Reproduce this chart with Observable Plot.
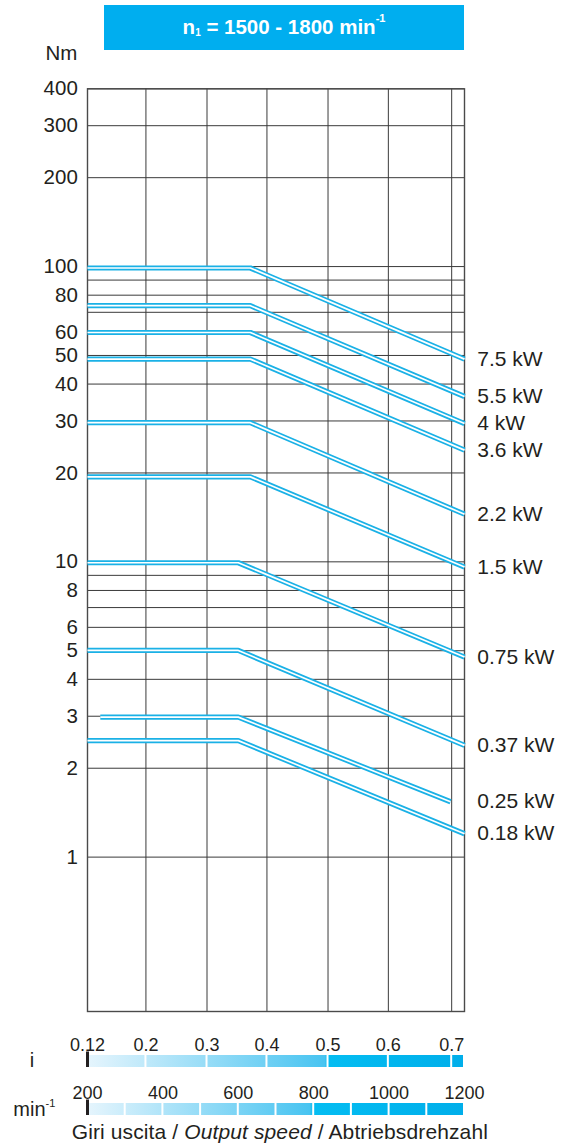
<!DOCTYPE html>
<html><head><meta charset="utf-8">
<script src="https://cdn.jsdelivr.net/npm/d3@7"></script>
<script src="https://cdn.jsdelivr.net/npm/@observablehq/plot@0.6"></script>
<style>
body{margin:0;background:#fff;font-family:"Liberation Sans",Arial,sans-serif;color:#231f20}
#wrap{position:relative;width:566px;height:1146px;overflow:hidden}
.abs{position:absolute;line-height:1;white-space:nowrap}
#title{left:104px;top:5px;width:360px;height:45px;background:#00aeef;color:#fff;font-weight:bold;font-size:20.5px;display:flex;align-items:center;justify-content:center;line-height:1}
#title .sub{font-size:10px;position:relative;top:5px}
#title .sup{font-size:11px;position:relative;top:-9px}
.sup2{font-size:11px;position:relative;top:-9px}
svg{display:block}
</style></head>
<body><div id="wrap"></div>
<script>
// ---- data ----
const powers      = ["7.5 kW","5.5 kW","4 kW","3.6 kW","2.2 kW","1.5 kW","0.75 kW","0.37 kW","0.25 kW","0.18 kW"];
const startSpeed  = [200, 200, 200, 200, 200, 200, 200, 200, 234, 200];
const kneeSpeed   = [632, 632, 632, 632, 632, 632, 600, 600, 600, 600];
const flatTorque  = [98.9, 73.7, 59.8, 48.6, 29.6, 19.4, 9.93, 5.01, 2.98, 2.48];
const endSpeed    = [1200, 1200, 1200, 1200, 1200, 1200, 1200, 1200, 1163, 1200];
const endTorque   = [48.6, 36.3, 29.4, 23.9, 14.5, 9.6, 4.76, 2.39, 1.54, 1.20];

const yGrid  = [1,2,3,4,5,6,7,8,9,10,20,30,40,50,60,70,80,90,100,200,300,400];
const yTicks = [1,2,3,4,5,6,8,10,20,30,40,50,60,80,100,200,300,400];

const iTicks  = ["0.12","0.2","0.3","0.4","0.5","0.6","0.7"];
const iSpeed  = [200, 355, 517, 676, 838, 998, 1166];   // position of each ratio on the speed axis
const speedTicks = [200, 400, 600, 800, 1000, 1200];
const speedSteps = [200, 300, 400, 500, 600, 700, 800, 900, 1000, 1100, 1200];

// ---- layout ----
const W = 566, ML = 87, MR = W - 464;
const wrap = document.getElementById("wrap");
const font = "'Liberation Sans', Arial, sans-serif";
const cyan = "#1ab1e6";

const rows = powers.flatMap((p, k) => [
  {p, n: startSpeed[k], T: flatTorque[k]},
  {p, n: kneeSpeed[k],  T: flatTorque[k]},
  {p, n: endSpeed[k],   T: endTorque[k]}
]);

const main = Plot.plot({
  width: W, height: 1020,
  marginLeft: ML, marginRight: MR, marginTop: 88.3, marginBottom: 9,
  style: {fontFamily: font, color: "#231f20", background: "transparent", overflow: "visible"},
  x: {type: "linear", domain: [200, 1200], axis: null},
  y: {type: "log", domain: [0.3, 400], axis: null, label: null},
  marks: [
    Plot.ruleY(yGrid, {stroke: "#3a3a3a", strokeWidth: 1}),
    Plot.ruleX(iSpeed.slice(1), {stroke: "#3a3a3a", strokeWidth: 1}),
    Plot.frame({stroke: "#4a4a4a", strokeWidth: 1.4}),
    Plot.line(rows, {x: "n", y: "T", z: "p", stroke: cyan, strokeWidth: 5.2, strokeLinecap: "butt", strokeLinejoin: "miter"}),
    Plot.line(rows, {x: "n", y: "T", z: "p", stroke: "#ffffff", strokeWidth: 1.7, strokeLinecap: "butt", strokeLinejoin: "miter"}),
    Plot.axisY(yTicks, {tickSize: 0, tickPadding: 9.7, fontSize: 20.5, tickFormat: d => String(d), label: null}),
    Plot.text(powers, {y: (d, k) => endTorque[k], text: d => d, frameAnchor: "right", dx: 12.7, textAnchor: "start", fontSize: 21, fill: "#231f20"})
  ]
});
main.style.position = "absolute"; main.style.left = "0px"; main.style.top = "0px";
wrap.appendChild(main);

function addGrad(svg, id, brk) {
  const ns = "http://www.w3.org/2000/svg";
  const defs = document.createElementNS(ns, "defs");
  defs.innerHTML = `<linearGradient id="${id}" gradientUnits="userSpaceOnUse" x1="${ML}" x2="${W - MR}" y1="0" y2="0">
    <stop offset="0" stop-color="#e6f5fd"/>
    <stop offset="${brk - 0.01}" stop-color="#48c4f1"/>
    <stop offset="${brk}" stop-color="#04bdf2"/>
    <stop offset="1" stop-color="#00aeea"/></linearGradient>`;
  svg.insertBefore(defs, svg.firstChild);
}

function bar(top, stops, labelVals, labelText, gradId, brk) {
  const segs = stops.slice(0, -1).map((a, k) => ({a, b: stops[k + 1]}));
  const p = Plot.plot({
    width: W, height: 43,
    marginLeft: ML, marginRight: MR, marginTop: 30, marginBottom: 1,
    style: {fontFamily: font, color: "#231f20", background: "transparent", overflow: "visible"},
    x: {type: "linear", domain: [200, 1200], axis: null},
    marks: [
      Plot.rect(segs, {x1: "a", x2: "b", fill: `url(#${gradId})`, insetLeft: 1, insetRight: 1}),
      Plot.ruleX([200], {stroke: "#231f20", strokeWidth: 3, insetTop: -3.5}),
      Plot.text(labelVals, {x: d => d, text: (d, k) => labelText[k], frameAnchor: "top", lineAnchor: "bottom", dy: -5, fontSize: 18, fill: "#231f20"})
    ]
  });
  addGrad(p, gradId, brk);
  p.style.position = "absolute"; p.style.left = "0px"; p.style.top = top + "px";
  wrap.appendChild(p);
}
bar(1025, [...iSpeed, 1200], iSpeed, iTicks, "gi", 0.64);
bar(1073, speedSteps, speedTicks, speedTicks.map(String), "gm", 0.6);

// ---- HTML texts ----
function addDiv(html, css) {
  const d = document.createElement("div");
  d.className = "abs"; d.innerHTML = html; d.style.cssText += css;
  wrap.appendChild(d);
  return d;
}
const t = document.createElement("div");
t.id = "title";
t.className = "abs";
t.innerHTML = 'n<span class="sub">1</span>&nbsp;= 1500 - 1800 min<span class="sup">-1</span>';
wrap.appendChild(t);
addDiv("Nm", "left:0;width:77.3px;text-align:right;top:42.6px;font-size:20.5px;");
addDiv("i", "left:22px;width:20px;text-align:center;top:1049.8px;font-size:20px;");
addDiv('min<span class="sup2">-1</span>', "left:13.3px;top:1098.8px;font-size:20px;");
addDiv('Giri uscita / <i>Output speed</i> / Abtriebsdrehzahl', "left:71.7px;top:1120.5px;font-size:21px;letter-spacing:0.12px;");
</script>
</body></html>
